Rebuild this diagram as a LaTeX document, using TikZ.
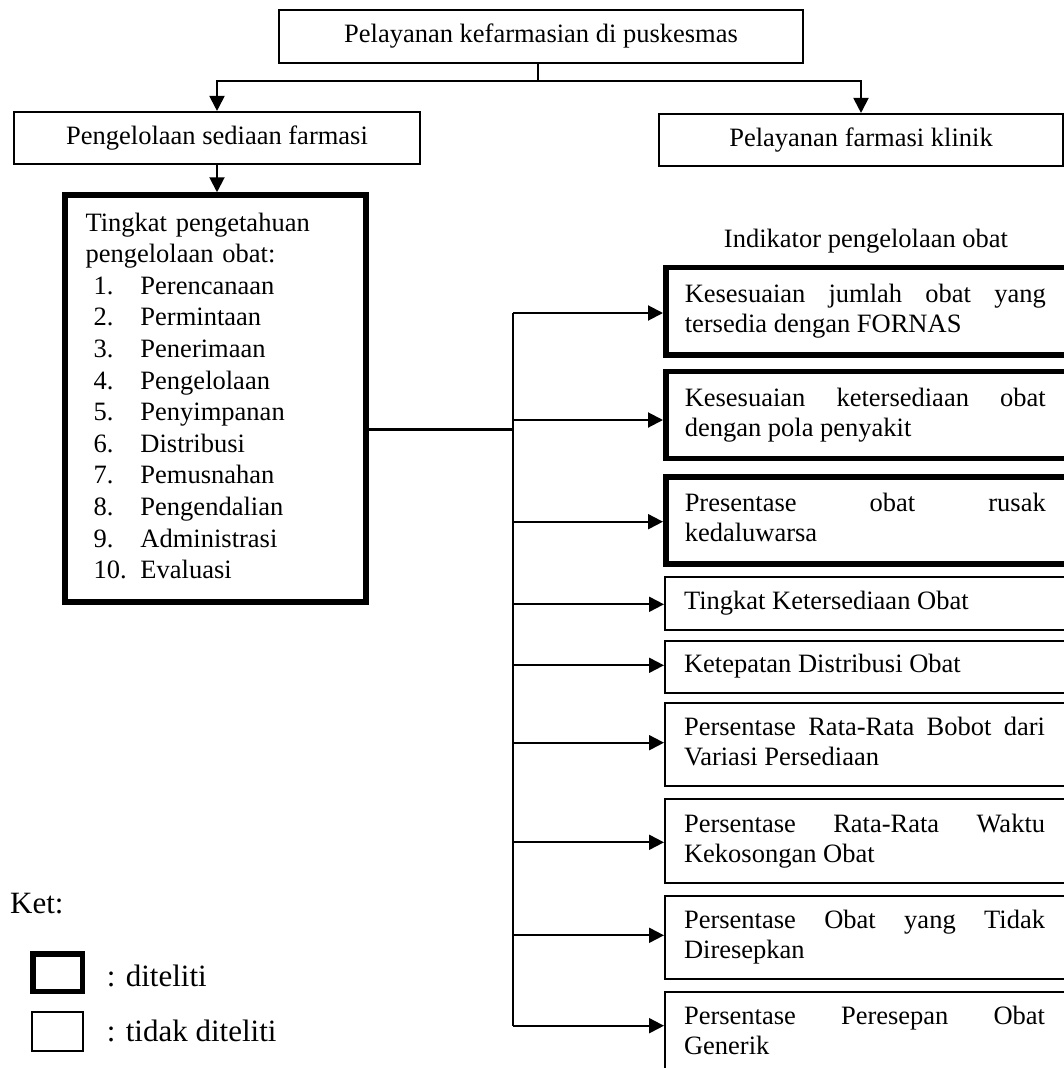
\documentclass[tikz,border=0pt]{standalone}
\usepackage{fontspec}
\setmainfont{Liberation Serif}
\usetikzlibrary{arrows.meta}
\newcommand{\jl}[1]{\makebox[361pt][s]{#1}}
\newcommand{\litem}[2]{\hspace*{8pt}\makebox[47pt][l]{#1}#2}
\begin{document}
\begin{tikzpicture}[x=1pt,y=-1pt,
  boxthin/.style={draw, line width=2.1pt},
  boxbold/.style={draw, line width=5.5pt},
  single/.style={text height=18pt, text depth=6pt, font=\fontsize{26.5}{30}\selectfont},
  ind/.style={anchor=west, inner xsep=19pt, inner ysep=0pt, font=\fontsize{26.5}{30}\selectfont},
  conn/.style={line width=2pt},
  arr/.style={conn, -{Triangle[length=15pt,width=15pt]}},
  leg/.style={font=\fontsize{31}{36}\selectfont, anchor=base west, inner sep=0pt},
]
\useasboundingbox (0,0) rectangle (1064,1068);

% top level
\node[boxthin, single, minimum width=524pt, minimum height=53pt] (top) at (541,36.5) {Pelayanan kefarmasian di puskesmas};
\node[boxthin, single, minimum width=406pt, minimum height=52pt] (lbox) at (217,138) {Pengelolaan sediaan farmasi};
\node[boxthin, single, minimum width=404pt, minimum height=52pt] (rbox) at (861,140) {Pelayanan farmasi klinik};

\node[boxbold, text width=260pt, align=left, inner xsep=20.4pt, inner ysep=0pt,
      minimum height=407pt, font=\fontsize{26.5}{31.6}\selectfont] (list) at (215.5,398.5)
 {\strut Tingkat pengetahuan\\
  pengelolaan obat:\\
  \litem{1.}{Perencanaan}\\
  \litem{2.}{Permintaan}\\
  \litem{3.}{Penerimaan}\\
  \litem{4.}{Pengelolaan}\\
  \litem{5.}{Penyimpanan}\\
  \litem{6.}{Distribusi}\\
  \litem{7.}{Pemusnahan}\\
  \litem{8.}{Pengendalian}\\
  \litem{9.}{Administrasi}\\
  \litem{10.}{Evaluasi}\strut};

\coordinate (j0) at (538,81);
\draw[conn] (top.south -| j0) -- (j0);
\draw[arr] (j0) -| (lbox.north);
\draw[arr] (j0) -| (rbox.north);
\draw[arr] (lbox.south) -- (lbox.south |- list.north);

% indicators
\node[anchor=base, inner sep=0pt, font=\fontsize{26.5}{30}\selectfont] (indt) at (866,247) {Indikator pengelolaan obat};

\node[boxbold, ind, minimum height=87.7pt] (b1) at (663,311.2)
 {\parbox[c]{361pt}{\strut\jl{Kesesuaian jumlah obat yang}\\tersedia dengan FORNAS\strut}\hspace*{60pt}};
\node[boxbold, ind, minimum height=86.6pt] (b2) at (663,415)
 {\parbox[c]{361pt}{\strut\jl{Kesesuaian ketersediaan obat}\\dengan pola penyakit\strut}\hspace*{60pt}};
\node[boxbold, ind, minimum height=87pt] (b3) at (663,520.5)
 {\parbox[c]{361pt}{\strut\jl{Presentase obat rusak}\\kedaluwarsa\strut}\hspace*{60pt}};
\node[boxthin, ind, minimum height=52.7pt] (b4) at (664,603.7)
 {\parbox[c]{361pt}{\strut Tingkat Ketersediaan Obat\strut}\hspace*{60pt}};
\node[boxthin, ind, minimum height=52pt] (b5) at (664,666.7)
 {\parbox[c]{361pt}{\strut Ketepatan Distribusi Obat\strut}\hspace*{60pt}};
\node[boxthin, ind, minimum height=82.7pt] (b6) at (664,744.7)
 {\parbox[c]{361pt}{\strut\jl{Persentase Rata-Rata Bobot dari}\\Variasi Persediaan\strut}\hspace*{60pt}};
\node[boxthin, ind, minimum height=83.4pt] (b7) at (664,841)
 {\parbox[c]{361pt}{\strut\jl{Persentase Rata-Rata Waktu}\\Kekosongan Obat\strut}\hspace*{60pt}};
\node[boxthin, ind, minimum height=82.7pt] (b8) at (664,937.3)
 {\parbox[c]{361pt}{\strut\jl{Persentase Obat yang Tidak}\\Diresepkan\strut}\hspace*{60pt}};
\node[boxthin, ind, minimum height=83pt] (b9) at (664,1033.5)
 {\parbox[c]{361pt}{\strut\jl{Persentase Peresepan Obat}\\Generik\strut}\hspace*{60pt}};

\coordinate (a1) at (513,313);
\coordinate (a2) at (513,420);
\coordinate (a3) at (513,521.7);
\coordinate (a4) at (513,604.3);
\coordinate (a5) at (513,665.3);
\coordinate (a6) at (513,742.7);
\coordinate (a7) at (513,842.3);
\coordinate (a8) at (513,935.3);
\coordinate (a9) at (513,1025.7);
\coordinate (j1) at (513,429);

\draw[conn] (a1) -- (a9);
\draw[line width=3pt] (list.east |- j1) -- (j1);
\foreach \i in {1,...,9} \draw[arr] (a\i) -- (a\i -| b\i.west);

% legend
\node[leg] (ket) at (10,913.3) {Ket:};
\node[boxbold, minimum width=49.3pt, minimum height=37.3pt, inner sep=0pt] (lg1) at (57.8,972.8) {};
\node[boxthin, minimum width=51pt, minimum height=39pt, inner sep=0pt] (lg2) at (57.5,1031.5) {};
\node[leg] (lt1) at (106.7,986.7) {: diteliti};
\node[leg] (lt2) at (106.7,1041.7) {: tidak diteliti};
\end{tikzpicture}
\end{document}
